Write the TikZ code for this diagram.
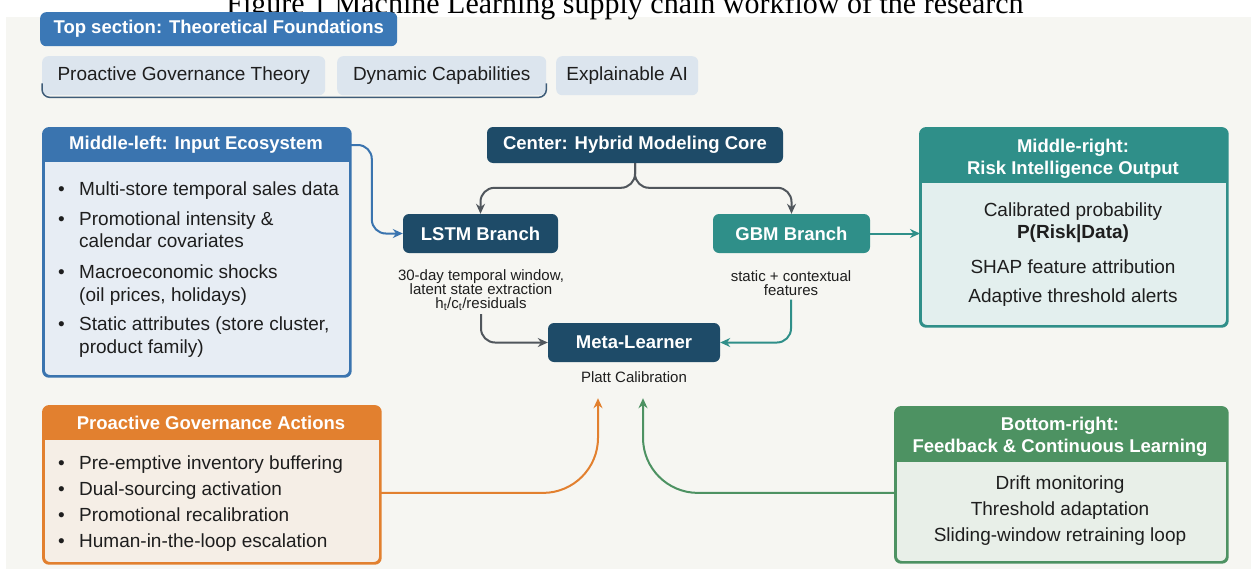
\documentclass[tikz,border=0pt]{standalone}
\usepackage{fontspec}
\setmainfont{Liberation Sans}
\newfontfamily\ttlfont{Liberation Serif}
\usetikzlibrary{arrows.meta,calc}
\definecolor{bgc}{HTML}{F6F6F2}
\definecolor{topblue}{HTML}{3B78B6}
\definecolor{chipc}{HTML}{DCE5EE}
\definecolor{brk}{HTML}{3E5C78}
\definecolor{inblue}{HTML}{3A74AF}
\definecolor{inbody}{HTML}{E7EDF4}
\definecolor{navy}{HTML}{1E4B68}
\definecolor{tealc}{HTML}{2F8F89}
\definecolor{tealbody}{HTML}{E3EFEE}
\definecolor{orng}{HTML}{E2802F}
\definecolor{orbody}{HTML}{F5EEE6}
\definecolor{grn}{HTML}{4D9262}
\definecolor{grbody}{HTML}{E8EFE8}
\definecolor{arrgray}{HTML}{50565C}
\definecolor{txt}{HTML}{1E1E1E}
\tikzset{
  hdr/.style={font=\fontsize{18.5}{22}\selectfont\bfseries, text=white, align=center},
  bodytxt/.style={font=\fontsize{19}{22}\selectfont, text=txt, inner sep=0pt},
  smalltxt/.style={font=\fontsize{15}{14}\selectfont, text=txt, align=center},
  solid box/.style={rounded corners=6pt, inner sep=0pt},
  panel/.style={line width=1.8pt, rounded corners=6pt, inner sep=0pt, anchor=north west},
  conn/.style={line width=2pt, rounded corners=14pt, -{Stealth[length=10pt,width=9pt]}},
}
\begin{document}
\begin{tikzpicture}[x=1pt,y=-1pt]
\useasboundingbox (0,0) rectangle (1255,573);
\fill[white] (0,0) rectangle (1255,573);
\fill[bgc] (6,17) rectangle (1251,569);

% title (cut at top)
\node[font=\ttlfont\fontsize{30}{32}\selectfont, anchor=base, inner sep=0pt] (title) at (625,13) {Figure 1 Machine Learning supply chain workflow of the research};

% top section
\node[solid box, fill=topblue, minimum width=357pt, minimum height=34pt, anchor=north west, hdr] (top) at (40,12) {Top section: Theoretical Foundations};
\node[solid box, fill=chipc, minimum width=283pt, minimum height=39pt, anchor=north west, bodytxt] (ch1) at (42,56) {Proactive Governance Theory};
\node[solid box, fill=chipc, minimum width=209pt, minimum height=39pt, anchor=north west, bodytxt] (ch2) at (337,56) {Dynamic Capabilities};
\node[solid box, fill=chipc, minimum width=142pt, minimum height=39pt, anchor=north west, bodytxt] (ch3) at (556,56) {Explainable AI};
\draw[brk, line width=1.5pt, rounded corners=8pt] ($(ch1.south west)+(0,-12)$) -- ($(ch1.south west)+(0,2)$) -- ($(ch2.south east)+(0,2)$) -- ($(ch2.south east)+(0,-12)$);

% input panel
\node[panel, draw=inblue, fill=inbody, minimum width=306pt, minimum height=247pt] (inp) at (43,128) {};
\begin{scope}
\clip[rounded corners=6pt] (inp.north west) rectangle (inp.south east);
\fill[inblue] (inp.north west) rectangle ($(inp.north east)+(0,34)$);
\end{scope}
\draw[inblue, line width=1.8pt, rounded corners=6pt] (inp.north west) rectangle (inp.south east);
\node[hdr] (inph) at (196,145) {Middle-left: Input Ecosystem};
\foreach \n/\yy in {a/188, b/218, c/271, d/323}
  \node[bodytxt, anchor=base west] (inb\n) at (58,\yy+7) {•};
\node[bodytxt, anchor=base west] (in1) at (79,195) {Multi-store temporal sales data};
\node[bodytxt, anchor=base west] (in2) at (79,225) {Promotional intensity \&};
\node[bodytxt, anchor=base west] (in3) at (79,247) {calendar covariates};
\node[bodytxt, anchor=base west] (in4) at (79,278) {Macroeconomic shocks};
\node[bodytxt, anchor=base west] (in5) at (79,301) {(oil prices, holidays)};
\node[bodytxt, anchor=base west] (in6) at (79,330) {Static attributes (store cluster,};
\node[bodytxt, anchor=base west] (in7) at (79,353) {product family)};
\coordinate (inpout) at ($(inp.north east)+(0,17)$);

% center core
\node[solid box, fill=navy, minimum width=296pt, minimum height=36pt, hdr] (core) at (635,145) {Center: Hybrid Modeling Core};
\node[solid box, fill=navy, minimum width=155pt, minimum height=39pt, hdr] (lstm) at (480.5,233.5) {LSTM Branch};
\node[solid box, fill=tealc, minimum width=157pt, minimum height=39pt, hdr] (gbm) at (791.5,233.5) {GBM Branch};
\node[solid box, fill=navy, minimum width=172pt, minimum height=39pt, hdr] (meta) at (634,342.5) {Meta-Learner};
\node[smalltxt] (lcap) at (481,290) {30-day temporal window,\\latent state extraction\\h\textsubscript{t}/c\textsubscript{t}/residuals};
\node[smalltxt] (gcap) at (791,283.5) {static + contextual\\features};
\node[smalltxt] (platt) at (634,377) {Platt Calibration};

% risk panel
\node[panel, draw=tealc, fill=tealbody, minimum width=306pt, minimum height=197pt] (risk) at (920,128) {};
\begin{scope}
\clip[rounded corners=6pt] (risk.north west) rectangle (risk.south east);
\fill[tealc] (risk.north west) rectangle ($(risk.north east)+(0,55)$);
\end{scope}
\draw[tealc, line width=1.8pt, rounded corners=6pt] (risk.north west) rectangle (risk.south east);
\node[hdr] (riskh) at (1073,158.5) {Middle-right:\\Risk Intelligence Output};
\node[bodytxt] (r1) at (1073,212) {Calibrated probability};
\node[bodytxt, font=\fontsize{19}{22}\selectfont\bfseries] (r2) at (1073,234) {P(Risk|Data)};
\node[bodytxt] (r3) at (1073,267) {SHAP feature attribution};
\node[bodytxt] (r4) at (1073,298) {Adaptive threshold alerts};

% actions panel
\node[panel, draw=orng, fill=orbody, minimum width=336pt, minimum height=156pt] (act) at (43,406) {};
\begin{scope}
\clip[rounded corners=6pt] (act.north west) rectangle (act.south east);
\fill[orng] (act.north west) rectangle ($(act.north east)+(0,34)$);
\end{scope}
\draw[orng, line width=1.8pt, rounded corners=6pt] (act.north west) rectangle (act.south east);
\node[hdr] (acth) at (211,423) {Proactive Governance Actions};
\foreach \n/\yy in {a/462, b/488, c/514, d/540}
  \node[bodytxt, anchor=base west] (acb\n) at (58,\yy+7) {•};
\node[bodytxt, anchor=base west] (a1) at (79,469) {Pre-emptive inventory buffering};
\node[bodytxt, anchor=base west] (a2) at (79,495) {Dual-sourcing activation};
\node[bodytxt, anchor=base west] (a3) at (79,521) {Promotional recalibration};
\node[bodytxt, anchor=base west] (a4) at (79,547) {Human-in-the-loop escalation};

% feedback panel
\node[panel, draw=grn, fill=grbody, minimum width=331pt, minimum height=154pt] (fb) at (895,407) {};
\begin{scope}
\clip[rounded corners=6pt] (fb.north west) rectangle (fb.south east);
\fill[grn] (fb.north west) rectangle ($(fb.north east)+(0,55)$);
\end{scope}
\draw[grn, line width=1.8pt, rounded corners=6pt] (fb.north west) rectangle (fb.south east);
\node[hdr] (fbh) at (1060,436.5) {Bottom-right:\\Feedback \& Continuous Learning};
\node[bodytxt] (f1) at (1060,485) {Drift monitoring};
\node[bodytxt] (f2) at (1060,511) {Threshold adaptation};
\node[bodytxt] (f3) at (1060,537) {Sliding-window retraining loop};

% connectors
\draw[conn, inblue] (inpout) -| ($(lstm.west)+(-31,0)$) -- (lstm.west);
\draw[conn, arrgray] (core.south) |- ($(lstm.north)+(0,-26)$) -- (lstm.north);
\draw[conn, arrgray] (core.south) |- ($(gbm.north)+(0,-26)$) -- (gbm.north);
\draw[conn, tealc] (gbm.east) -- (gbm.east -| risk.west);
\draw[conn, arrgray] (lcap.south) |- (meta.west);
\draw[conn, tealc] (gcap.south) |- (meta.east);
\coordinate (tipA) at ($(meta.south)+(-36,36)$);
\coordinate (tipB) at ($(meta.south)+(9,36)$);
\draw[conn, orng, rounded corners=55pt] ($(act.east)+(0,8)$) -| (tipA);
\draw[conn, grn, rounded corners=55pt] ($(fb.west)+(0,8)$) -| (tipB);
\end{tikzpicture}
\end{document}
